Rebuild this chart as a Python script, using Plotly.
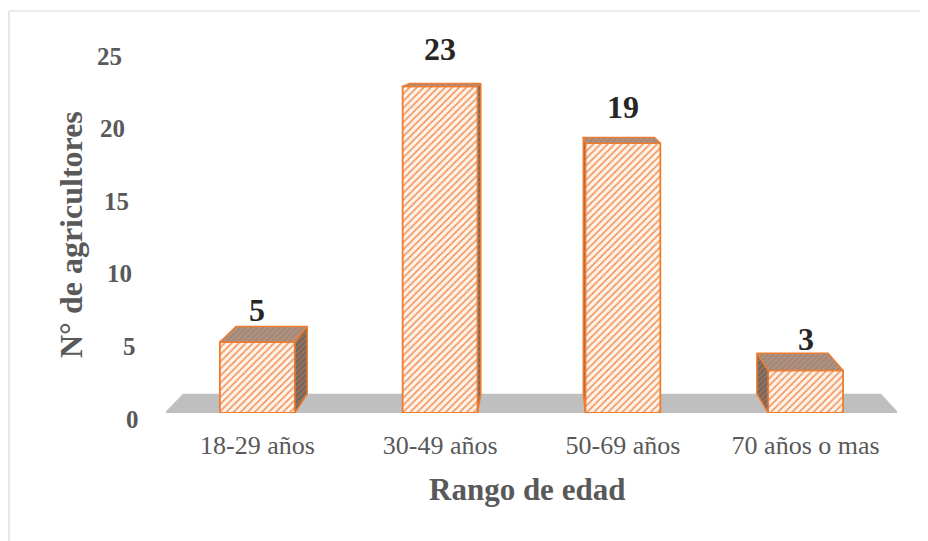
import plotly.graph_objects as go

# ---- data ----
categories = ["18-29 años", "30-49 años", "50-69 años", "70 años o mas"]
values = [5, 23, 19, 3]
y_tick_values = [0, 5, 10, 15, 20, 25]
y_title = "N° de agricultores"
x_title = "Rango de edad"

# ---- layout constants ----
OFF = 8  # page body margin
W, H = 928, 541
ML, MR, MT, MB = 166 - OFF, 47 - OFF, 20 - OFF, 128 + OFF
PW, PH = W - ML - MR, H - MT - MB
PXU = 14.2              # pixels per unit on the front plane
YMAX = PH / PXU
XMIN, XMAX = -0.5, 3.5

def px_x(px):  # screen pixel -> paper x
    return (px - OFF - ML) / PW

def px_y(py):  # screen pixel -> paper y
    return (H - MB - (py - OFF)) / PH

def wall_px(v):  # screen pixel row of a value on the back-wall scale
    return 419 - 14.52 * v

# perspective (vanishing point in data coords) and depth fraction
VX, VY, F = 1.56, 27.0, 0.05
BW = 0.41

def back(x, y):
    return x + F * (VX - x), y + F * (VY - y)

ORANGE = "#ED7D31"
GREY_TXT = "#595959"
SERIF = "Liberation Serif, Times New Roman, serif"

fig = go.Figure()

# front faces
fig.add_trace(go.Bar(
    x=list(range(len(categories))), y=values, width=BW,
    marker=dict(
        color="#FEEFE4",
        line=dict(color=ORANGE, width=1.8),
        pattern=dict(shape="/", fgcolor="#F39358", bgcolor="#FEF2EA",
                     size=5, solidity=0.32, fillmode="replace"),
    ),
    hoverinfo="skip", showlegend=False,
))

# top and side faces (projected from values)
for i, v in enumerate(values):
    xl, xr = i - BW / 2, i + BW / 2
    bl = back(xl, v)
    br = back(xr, v)
    fig.add_trace(go.Scatter(
        x=[xl, xr, br[0], bl[0], xl], y=[v, v, br[1], bl[1], v],
        mode="lines", fill="toself", fillcolor="#a39088",
        fillpattern=dict(shape="/", fgcolor="#E59666", bgcolor="#9a8a82",
                         size=4, solidity=0.4),
        line=dict(color=ORANGE, width=1.5), hoverinfo="skip", showlegend=False,
    ))
    xs = xr if xr < VX else xl
    b0 = back(xs, 0)
    bt = back(xs, v)
    fig.add_trace(go.Scatter(
        x=[xs, xs, bt[0], b0[0], xs], y=[0, v, bt[1], b0[1], 0],
        mode="lines", fill="toself", fillcolor="#7a6a62",
        fillpattern=dict(shape="/", fgcolor="#D9834E", bgcolor="#73665f",
                         size=4, solidity=0.35),
        line=dict(color=ORANGE, width=1.5), hoverinfo="skip", showlegend=False,
    ))
    # data label (sits on the back-wall scale)
    fig.add_annotation(
        xref="x", yref="paper",
        x=i, y=px_y(wall_px(v) - 23), text=f"<b>{v}</b>", showarrow=False,
        xanchor="center", yanchor="bottom", yshift=-7,
        font=dict(family=SERIF, size=32, color="#262626"),
    )

# floor
fl = back(XMIN - 0.01, 0)
fr = back(XMAX + 0.01, 0)
fig.add_shape(
    type="path", xref="x", yref="y", layer="below",
    path=f"M {XMIN - 0.01},0 L {XMAX + 0.01},0 L {fr[0]},{fr[1]} L {fl[0]},{fl[1]} Z",
    fillcolor="#BFBFBF", line=dict(width=0),
)

# y tick labels (slanted, as on the 3D back wall)
for t in y_tick_values:
    fig.add_annotation(
        xref="paper", yref="paper",
        x=px_x(141 - t / 25 * 17), y=px_y(wall_px(t)),
        text=f"<b>{t}</b>", showarrow=False, xanchor="right", yanchor="middle",
        font=dict(family=SERIF, size=25, color=GREY_TXT),
    )

# axis titles
fig.add_annotation(
    xref="paper", yref="paper", x=px_x(71), y=px_y(234),
    text=f"<b>{y_title}</b>", showarrow=False, textangle=-90,
    xanchor="center", yanchor="middle",
    font=dict(family=SERIF, size=32, color=GREY_TXT),
)
fig.add_annotation(
    xref="paper", yref="paper", x=px_x(527), y=px_y(489),
    text=f"<b>{x_title}</b>", showarrow=False,
    xanchor="center", yanchor="middle",
    font=dict(family=SERIF, size=31, color=GREY_TXT),
)

# outer chart border (top and left edges)
fig.add_shape(type="line", xref="paper", yref="paper",
              x0=px_x(9), y0=px_y(11), x1=px_x(W + 20), y1=px_y(11),
              line=dict(color="#D9D9D9", width=1.2))
fig.add_shape(type="line", xref="paper", yref="paper",
              x0=px_x(9), y0=px_y(11), x1=px_x(9), y1=px_y(H + 20),
              line=dict(color="#D9D9D9", width=1.2))

fig.update_layout(
    width=W, height=H,
    margin=dict(l=ML, r=MR, t=MT, b=MB),
    paper_bgcolor="white", plot_bgcolor="white",
    showlegend=False,
    xaxis=dict(
        range=[XMIN, XMAX], tickmode="array",
        tickvals=list(range(len(categories))), ticktext=categories,
        showgrid=False, zeroline=False, showline=False, ticks="",
        tickfont=dict(family=SERIF, size=26, color=GREY_TXT),
        ticklabelstandoff=14, fixedrange=True,
    ),
    yaxis=dict(
        range=[0, YMAX], showgrid=False, zeroline=False, showline=False,
        showticklabels=False, ticks="", fixedrange=True,
    ),
)

fig.write_html("out.html")
